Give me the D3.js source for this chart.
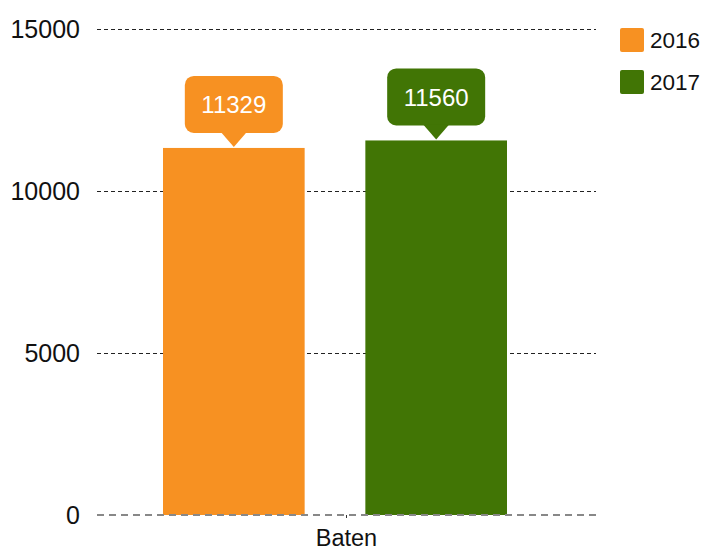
<!DOCTYPE html>
<html><head><meta charset="utf-8">
<script src="https://cdn.jsdelivr.net/npm/d3@7"></script>
<style>body{margin:0;background:#fff}svg{display:block}text{font-family:"Liberation Sans",Arial,sans-serif}</style>
</head><body>
<svg id="c" width="708" height="551"></svg>
<script>
const categories = ["Baten"];
const seriesNames = ["2016", "2017"];
const seriesValues = [11329, 11560];
const seriesColors = ["#f79122", "#417505"];
const yTicks = [0, 5000, 10000, 15000];

const svg = d3.select("#c");
const y = d3.scaleLinear().domain([0, 15000]).range([515, 29]);
const x0 = d3.scaleBand().domain(categories).range([97, 596]);
const x1 = d3.scaleBand().domain(seriesNames).range([163, 507]).paddingInner(0.3).paddingOuter(0);

// grid
svg.append("g").selectAll("line").data(yTicks.filter(d => d > 0)).join("line")
  .attr("x1", 97).attr("x2", 596).attr("y1", d => Math.round(y(d)) + 0.5).attr("y2", d => Math.round(y(d)) + 0.5)
  .attr("stroke", "#222").attr("stroke-width", 1).attr("stroke-dasharray", "4,3");

// y labels
svg.append("g").selectAll("text").data(yTicks).join("text")
  .attr("x", 80).attr("y", d => y(d)).attr("dy", "0.35em").attr("text-anchor", "end")
  .attr("font-size", 25).attr("fill", "#111").text(d => d);

// bars
svg.append("g").selectAll("rect").data(seriesValues).join("rect")
  .attr("x", (d, i) => x1(seriesNames[i])).attr("width", x1.bandwidth())
  .attr("y", d => y(d)).attr("height", d => y(0) - y(d))
  .attr("fill", (d, i) => seriesColors[i]);

// zero line
svg.append("line").attr("x1", 97).attr("x2", 596).attr("y1", y(0)).attr("y2", y(0))
  .attr("stroke", "#888").attr("stroke-width", 2).attr("stroke-dasharray", "7,5");
svg.append("line").attr("x1", x0(categories[0]) + x0.bandwidth()/2).attr("x2", x0(categories[0]) + x0.bandwidth()/2)
  .attr("y1", y(0)).attr("y2", y(0) + 3).attr("stroke", "#333");

// category label
svg.append("text").attr("x", x0(categories[0]) + x0.bandwidth()/2).attr("y", 546)
  .attr("text-anchor", "middle").attr("font-size", 23.5).attr("fill", "#111").text(categories[0]);

// callouts
const call = svg.append("g").selectAll("g").data(seriesValues).join("g")
  .attr("transform", (d, i) => `translate(${x1(seriesNames[i]) + x1.bandwidth()/2},${y(d)})`);
call.append("rect").attr("x", -49).attr("y", -72).attr("width", 98).attr("height", 57).attr("rx", 9)
  .attr("fill", (d, i) => seriesColors[i]);
call.append("path").attr("d", "M-13,-16 L13,-16 L0,-1 Z").attr("fill", (d, i) => seriesColors[i]);
call.append("text").attr("x", 0).attr("y", -43).attr("dy", "0.35em").attr("text-anchor", "middle")
  .attr("font-size", 24).attr("fill", "#fff").text(d => d);

// legend
const lg = svg.append("g").selectAll("g").data(seriesNames).join("g")
  .attr("transform", (d, i) => `translate(620,${28 + i * 42})`);
lg.append("rect").attr("width", 24).attr("height", 24).attr("rx", 2).attr("fill", (d, i) => seriesColors[i]);
lg.append("text").attr("x", 30).attr("y", 12).attr("dy", "0.35em").attr("font-size", 22.5).attr("fill", "#111").text(d => d);
</script>
</body></html>
